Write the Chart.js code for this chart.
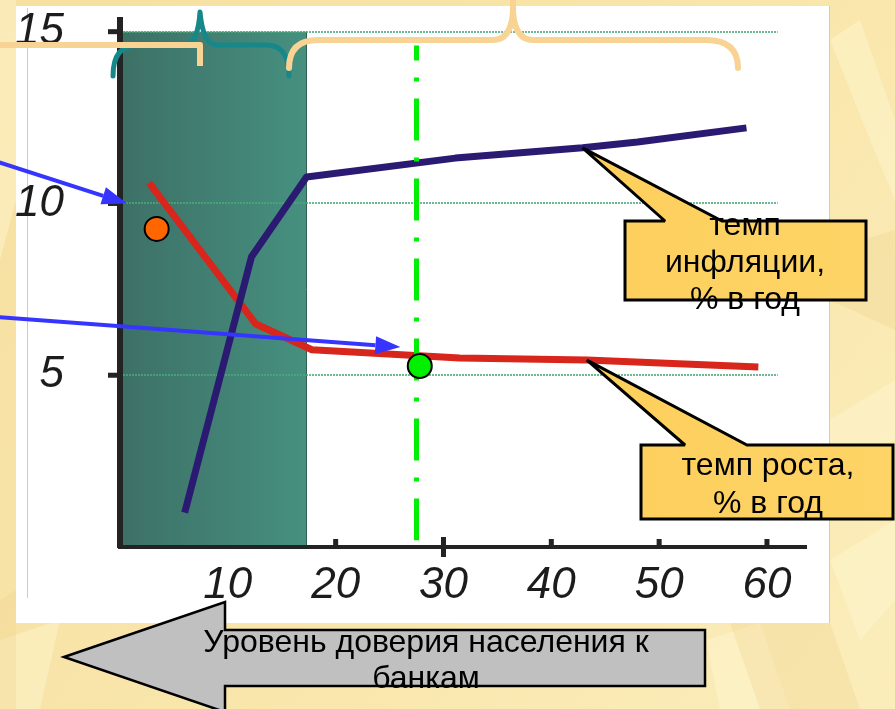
<!DOCTYPE html>
<html>
<head>
<meta charset="utf-8">
<script src="https://cdn.jsdelivr.net/npm/chart.js@4.4.1/dist/chart.umd.min.js"></script>
<style>
  html, body { margin: 0; padding: 0; overflow: hidden; background: #f9e7ab; }
  #wrap { position: relative; width: 895px; height: 709px; }
</style>
</head>
<body>
<div id="wrap"><canvas id="c"></canvas></div>
<script>
// Axis tick values
const xTickValues = [10, 20, 30, 40, 50, 60];
const yTickValues = [5, 10, 15];

// Inflation rate (% per year) against the level of public trust in banks
const inflationTrust = [6.0, 12.2, 17.3, 31.1, 42.9, 48.0, 58.1];
const inflationRate  = [1.0, 8.45, 10.77, 11.32, 11.62, 11.79, 12.2];

// Economic growth rate (% per year) against the same trust level
const growthTrust = [2.7, 12.6, 17.8, 31.5, 43.3, 59.2];
const growthRate  = [10.6, 6.49, 5.74, 5.5, 5.44, 5.24];

// Marked states: [trust, growth rate]
const pastState    = [3.4, 9.26];
const currentState = [27.8, 5.27];

// Current trust level marker (vertical dash-dot line) and its vertical span
const trustMarker = 27.5;
const markerSpan  = [14.6, 0.2];

// Shaded low-trust zone on the trust axis, and its height
const lowTrustZone = [0, 17.25];
const zoneTop = 15;

// Dotted reference levels
const gridLevels = [5, 10, 15];
const gridEnd = 61;

// Targets of the blue pointer arrows: [trust, rate]
const arrowTargets = [[0.65, 10.0], [26.0, 5.82]];

// Callout and arrow captions
const calloutInflation = ['темп', 'инфляции,', '% в год'];
const calloutGrowth = ['темп роста,', '% в год'];
const trustArrowText = ['Уровень доверия населения к', 'банкам'];

const toXY = (xs, ys) => xs.map((x, i) => ({ x: x, y: ys[i] }));
const TEXT_FONT = "32px 'Liberation Sans', Arial, sans-serif";

function pix(chart, x, y) {
  return [chart.scales.x.getPixelForValue(x), chart.scales.y.getPixelForValue(y)];
}

function poly(ctx, pts) {
  ctx.beginPath();
  pts.forEach((q, i) => i ? ctx.lineTo(q[0], q[1]) : ctx.moveTo(q[0], q[1]));
  ctx.closePath();
  ctx.fill();
}

// Slide backdrop, white panel and the shaded zone (under the axes)
const backdrop = {
  id: 'backdrop',
  beforeDraw(chart) {
    const ctx = chart.ctx;
    ctx.save();
    const g = ctx.createLinearGradient(0, 0, 895, 709);
    g.addColorStop(0, '#f6dfa0');
    g.addColorStop(0.55, '#f9e6ab');
    g.addColorStop(1, '#fbedbb');
    ctx.fillStyle = g;
    ctx.fillRect(0, 0, 895, 709);

    // pale streaks of the slide texture
    ctx.fillStyle = 'rgba(255, 248, 210, 0.45)';
    [
      [[830, 40], [860, 20], [895, 120], [895, 200], [870, 140]],
      [[830, 420], [895, 380], [895, 440], [830, 470]],
      [[830, 560], [895, 520], [895, 600], [860, 640]],
      [[0, 640], [60, 620], [40, 709], [0, 709]],
      [[706, 640], [760, 623], [790, 709], [720, 709]],
      [[0, 0], [16, 0], [16, 200], [0, 260]]
    ].forEach(p => poly(ctx, p));
    ctx.fillStyle = 'rgba(240, 208, 140, 0.3)';
    [
      [[830, 250], [895, 230], [895, 330], [830, 300]],
      [[0, 600], [16, 590], [16, 709], [0, 709]],
      [[730, 623], [830, 623], [860, 709], [760, 709]]
    ].forEach(p => poly(ctx, p));

    // white chart panel
    ctx.fillStyle = '#ffffff';
    ctx.fillRect(16, 6, 814, 617);
    ctx.strokeStyle = '#cccccc';
    ctx.lineWidth = 1;
    ctx.beginPath();
    ctx.moveTo(27.5, 8); ctx.lineTo(27.5, 598);
    ctx.moveTo(829.5, 6); ctx.lineTo(829.5, 623);
    ctx.stroke();

    // shaded low-trust zone
    const [l, t] = pix(chart, lowTrustZone[0], zoneTop);
    const [r, b] = pix(chart, lowTrustZone[1], 0);
    const zg = ctx.createLinearGradient(l, 0, r, 0);
    zg.addColorStop(0, '#3d7066');
    zg.addColorStop(1, '#46907f');
    ctx.fillStyle = zg;
    ctx.fillRect(l, t, r - l, b - t);
    ctx.strokeStyle = '#2f5e54';
    ctx.lineWidth = 1;
    ctx.beginPath();
    ctx.moveTo(r + 0.5, t); ctx.lineTo(r + 0.5, b);
    ctx.stroke();
    ctx.restore();
  }
};

// Dotted reference levels and tick marks (over the axes, under the lines)
const levels = {
  id: 'levels',
  beforeDatasetsDraw(chart) {
    const ctx = chart.ctx;
    const xs = chart.scales.x, ys = chart.scales.y;
    ctx.save();
    ctx.strokeStyle = 'rgba(72, 170, 120, 0.8)';
    ctx.lineWidth = 2;
    ctx.setLineDash([2, 1]);
    gridLevels.forEach(v => {
      const y = Math.round(ys.getPixelForValue(v));
      ctx.beginPath();
      ctx.moveTo(xs.getPixelForValue(0) + 3, y);
      ctx.lineTo(xs.getPixelForValue(gridEnd), y);
      ctx.stroke();
    });
    ctx.setLineDash([]);
    ctx.fillStyle = '#232323';
    const x0 = xs.getPixelForValue(0);
    yTickValues.forEach(v => {
      const y = ys.getPixelForValue(v);
      ctx.fillRect(x0 - 12, y - 2.5, 12, 5);
    });
    const yb = ys.getPixelForValue(0);
    xTickValues.forEach(v => {
      if (v === 10) return;
      const x = xs.getPixelForValue(v);
      if (v === 30) ctx.fillRect(x - 2.5, yb - 10, 5, 20);
      else ctx.fillRect(x - 2.5, yb - 8, 5, 8);
    });
    ctx.restore();
  }
};

function drawArrow(ctx, x1, y1, x2, y2, color) {
  const a = Math.atan2(y2 - y1, x2 - x1);
  const len = 25, half = 9;
  const bx = x2 - len * Math.cos(a), by = y2 - len * Math.sin(a);
  ctx.strokeStyle = color;
  ctx.fillStyle = color;
  ctx.lineWidth = 4;
  ctx.beginPath();
  ctx.moveTo(x1, y1);
  ctx.lineTo(bx, by);
  ctx.stroke();
  ctx.beginPath();
  ctx.moveTo(x2, y2);
  ctx.lineTo(bx + half * Math.sin(a), by - half * Math.cos(a));
  ctx.lineTo(bx - half * Math.sin(a), by + half * Math.cos(a));
  ctx.closePath();
  ctx.fill();
}

function drawCallout(ctx, box, baseL, baseR, tip, lines, cx, firstBaseline, step) {
  ctx.beginPath();
  ctx.moveTo(box[0], box[1]);
  ctx.lineTo(baseL, box[1]);
  ctx.lineTo(tip[0], tip[1]);
  ctx.lineTo(baseR, box[1]);
  ctx.lineTo(box[2], box[1]);
  ctx.lineTo(box[2], box[3]);
  ctx.lineTo(box[0], box[3]);
  ctx.closePath();
  const g = ctx.createLinearGradient(box[0], 0, box[2], 0);
  g.addColorStop(0, '#fdd05e');
  g.addColorStop(1, '#fdd466');
  ctx.fillStyle = g;
  ctx.fill();
  ctx.strokeStyle = '#000';
  ctx.lineWidth = 3;
  ctx.lineJoin = 'miter';
  ctx.miterLimit = 2;
  ctx.stroke();
  ctx.fillStyle = '#000';
  ctx.font = TEXT_FONT;
  ctx.textAlign = 'center';
  ctx.textBaseline = 'alphabetic';
  lines.forEach((s, i) => ctx.fillText(s, cx, firstBaseline + i * step));
}

// Braces, pointer arrows, callouts and the trust arrow (on top)
const overlays = {
  id: 'overlays',
  afterDraw(chart) {
    const ctx = chart.ctx;
    ctx.save();
    ctx.lineCap = 'round';
    ctx.lineJoin = 'round';

    // teal brace over the low-trust zone
    ctx.strokeStyle = '#16888a';
    ctx.lineWidth = 5;
    ctx.beginPath();
    ctx.moveTo(113, 76);
    ctx.quadraticCurveTo(113, 45, 138, 45);
    ctx.lineTo(183, 45);
    ctx.quadraticCurveTo(198, 45, 200, 12);
    ctx.quadraticCurveTo(203, 45, 217, 45);
    ctx.lineTo(266, 45);
    ctx.quadraticCurveTo(289, 45, 289, 76);
    ctx.stroke();

    // light braces
    ctx.strokeStyle = '#f8d394';
    ctx.lineWidth = 6;
    ctx.lineCap = 'butt';
    ctx.beginPath();
    ctx.moveTo(0, 45);
    ctx.lineTo(200, 45);
    ctx.lineTo(200, 66);
    ctx.stroke();
    ctx.lineCap = 'round';
    ctx.beginPath();
    ctx.moveTo(289, 68);
    ctx.quadraticCurveTo(289, 40, 318, 40);
    ctx.lineTo(493, 40);
    ctx.quadraticCurveTo(511, 40, 513, 12);
    ctx.quadraticCurveTo(515, 40, 533, 40);
    ctx.lineTo(706, 40);
    ctx.quadraticCurveTo(738, 40, 738, 68);
    ctx.moveTo(513, 12);
    ctx.lineTo(513, -2);
    ctx.stroke();

    // blue pointer arrows
    const t1 = pix(chart, arrowTargets[0][0], arrowTargets[0][1]);
    const t2 = pix(chart, arrowTargets[1][0], arrowTargets[1][1]);
    ctx.lineCap = 'butt';
    drawArrow(ctx, -2, 162, t1[0], t1[1], '#3535ff');
    drawArrow(ctx, -2, 317, t2[0], t2[1], '#3535ff');

    // callouts pointing at the curves
    const iTip = pix(chart, inflationTrust[4], inflationRate[4]);
    drawCallout(ctx, [625, 221, 866, 300], 665, 722, iTip, calloutInflation, 745, 235, 37);
    const gTip = pix(chart, growthTrust[4], growthRate[4]);
    drawCallout(ctx, [641, 445, 893, 519], 685, 747, gTip, calloutGrowth, 768, 475, 38);

    // large arrow: level of public trust in banks
    ctx.beginPath();
    ctx.moveTo(64, 657);
    ctx.lineTo(225, 602);
    ctx.lineTo(225, 630);
    ctx.lineTo(705, 630);
    ctx.lineTo(705, 686);
    ctx.lineTo(225, 686);
    ctx.lineTo(225, 712);
    ctx.closePath();
    ctx.fillStyle = '#c0c0c0';
    ctx.fill();
    ctx.strokeStyle = '#000';
    ctx.lineWidth = 2.5;
    ctx.lineJoin = 'miter';
    ctx.miterLimit = 4;
    ctx.stroke();
    ctx.fillStyle = '#000';
    ctx.font = TEXT_FONT;
    ctx.textAlign = 'center';
    ctx.textBaseline = 'alphabetic';
    ctx.fillText(trustArrowText[0], 426, 652);
    ctx.fillText(trustArrowText[1], 426, 688);
    ctx.restore();
  }
};

const TICK_FONT = { family: "'Liberation Sans', Arial, sans-serif", size: 44, style: 'italic' };

new Chart(document.getElementById('c'), {
  type: 'scatter',
  data: {
    datasets: [
      {
        label: 'past',
        data: [{ x: pastState[0], y: pastState[1] }],
        pointRadius: 12, pointBackgroundColor: '#ff6600',
        pointBorderColor: '#000', pointBorderWidth: 2
      },
      {
        label: 'current',
        data: [{ x: currentState[0], y: currentState[1] }],
        pointRadius: 12, pointBackgroundColor: '#00f000',
        pointBorderColor: '#000', pointBorderWidth: 2
      },
      {
        label: 'trust level',
        data: [{ x: trustMarker, y: markerSpan[0] }, { x: trustMarker, y: markerSpan[1] }],
        showLine: true, pointRadius: 0, borderColor: '#00ee00', borderWidth: 5,
        borderDash: [42, 17, 4, 17], borderDashOffset: 27, borderCapStyle: 'butt'
      },
      {
        label: 'темп инфляции, % в год',
        data: toXY(inflationTrust, inflationRate),
        showLine: true, pointRadius: 0, borderColor: '#2b1a72', borderWidth: 7,
        borderJoinStyle: 'round', tension: 0
      },
      {
        label: 'темп роста, % в год',
        data: toXY(growthTrust, growthRate),
        showLine: true, pointRadius: 0, borderColor: '#d8261d', borderWidth: 7,
        borderJoinStyle: 'round', tension: 0
      }
    ]
  },
  options: {
    responsive: true,
    maintainAspectRatio: false,
    animation: false,
    events: [],
    layout: { padding: { top: 20, right: 89, left: 0, bottom: 0 } },
    plugins: { legend: { display: false }, tooltip: { enabled: false } },
    scales: {
      x: {
        type: 'linear', min: 0, max: 63.62,
        afterBuildTicks: s => { s.ticks = xTickValues.map(v => ({ value: v })); },
        afterFit: s => { s.height = 162; s.paddingLeft = 0; s.paddingRight = 0; },
        grid: { display: false, drawTicks: false },
        border: { display: true, color: '#232323', width: 4 },
        ticks: { font: TICK_FONT, color: '#1c1c1c', padding: 12, autoSkip: false, maxRotation: 0 }
      },
      y: {
        type: 'linear', min: 0, max: 15.34,
        afterBuildTicks: s => { s.ticks = yTickValues.map(v => ({ value: v })); },
        afterFit: s => { s.width = 120; s.paddingTop = 0; s.paddingBottom = 0; },
        grid: { display: false, drawTicks: false },
        border: { display: true, color: '#232323', width: 6 },
        ticks: { font: TICK_FONT, color: '#1c1c1c', padding: 56 }
      }
    }
  },
  plugins: [backdrop, levels, overlays]
});
</script>
</body>
</html>
